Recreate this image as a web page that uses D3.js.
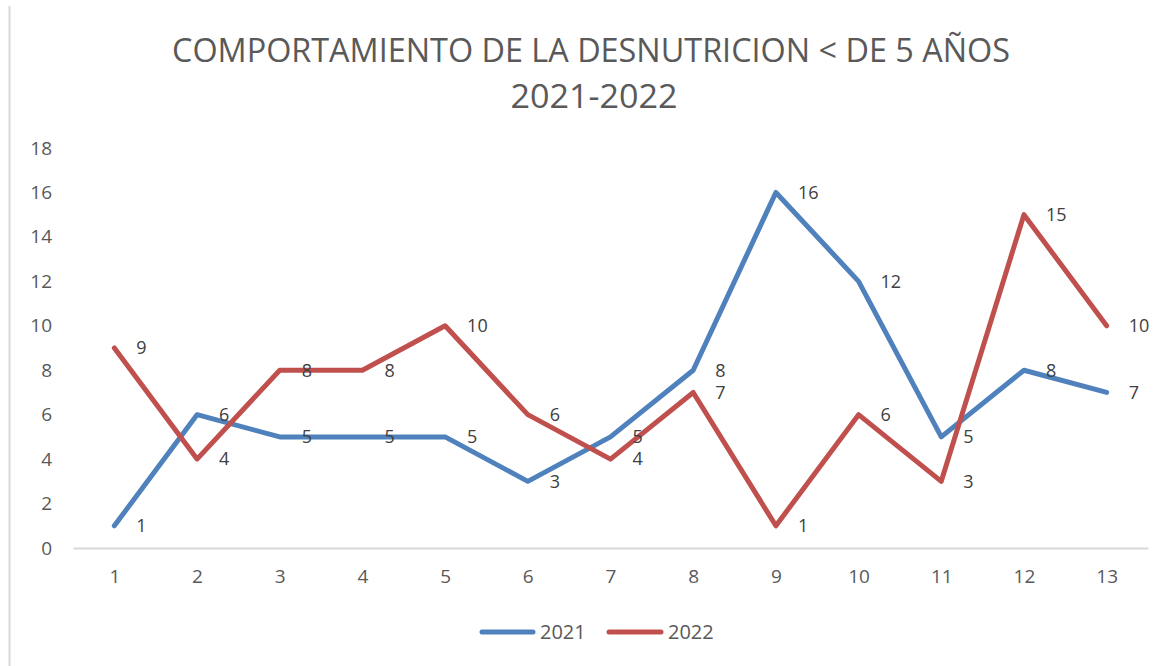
<!DOCTYPE html>
<html><head><meta charset="utf-8">
<script src="https://cdn.jsdelivr.net/npm/d3@7"></script>
<style>body{margin:0;background:#fff}svg{display:block}</style>
</head><body>
<svg id="c" width="1167" height="666"></svg>
<script>
const categories = ["1","2","3","4","5","6","7","8","9","10","11","12","13"];
const series2021 = [1,6,5,5,5,3,5,8,16,12,5,8,7];
const series2022 = [9,4,8,8,10,6,4,7,1,6,3,15,10];
const yTicks = [0,2,4,6,8,10,12,14,16,18];
const titleLines = ["COMPORTAMIENTO DE LA DESNUTRICION < DE 5 AÑOS","2021-2022"];
const seriesNames = ["2021","2022"];
const colors = ["#4F81BD","#C0504D"];

const svg = d3.select("#c");
const font = "'Open Sans', sans-serif";
svg.append("rect").attr("width",1167).attr("height",666).attr("fill","#fff");
svg.append("line").attr("x1",9.5).attr("x2",9.5).attr("y1",6).attr("y2",666).attr("stroke","#d9d9d9").attr("stroke-width",2);

const x = d3.scalePoint().domain(categories).range([73,1148]).padding(0.5);
const y = d3.scaleLinear().domain([0,18]).range([548,148]);

// title
svg.append("text").attr("x",591).attr("y",62).attr("text-anchor","middle")
  .attr("font-family",font).attr("font-size",32).attr("fill","#595959")
  .attr("textLength",838).attr("lengthAdjust","spacingAndGlyphs").text(titleLines[0]);
svg.append("text").attr("x",594).attr("y",108).attr("text-anchor","middle")
  .attr("font-family",font).attr("font-size",32).attr("fill","#595959")
  .attr("textLength",167).attr("lengthAdjust","spacingAndGlyphs").text(titleLines[1]);

// y axis labels
const ya = svg.append("g").attr("transform","translate(52,0)")
  .call(d3.axisLeft(y).tickValues(yTicks).tickSize(0).tickPadding(0));
ya.select(".domain").remove();
ya.selectAll("text").attr("font-family",font).attr("font-size",19).attr("fill","#595959");

// x axis
const xa = svg.append("g").attr("transform","translate(0,548)")
  .call(d3.axisBottom(x).tickSize(0).tickPadding(22));
xa.select(".domain").attr("stroke","#d9d9d9").attr("stroke-width",2);
xa.selectAll("text").attr("font-family",font).attr("font-size",19).attr("fill","#595959");

const line = d3.line().x((d,i)=>x(categories[i])).y(d=>y(d));
[series2021,series2022].forEach((s,k)=>{
  svg.append("path").datum(s).attr("d",line).attr("fill","none")
    .attr("stroke",colors[k]).attr("stroke-width",5)
    .attr("stroke-linejoin","round").attr("stroke-linecap","round");
});
[series2021,series2022].forEach((s,k)=>{
  svg.append("g").selectAll("text").data(s).join("text")
    .attr("x",(d,i)=>x(categories[i])+22).attr("y",d=>y(d))
    .attr("dy","0.35em").attr("font-family",font).attr("font-size",18)
    .attr("fill","#404040").text(d=>d);
});

// legend
const leg = [[480,535,540],[607,663,668]];
seriesNames.forEach((n,k)=>{
  svg.append("line").attr("x1",leg[k][0]+2).attr("x2",leg[k][1]-2).attr("y1",632).attr("y2",632)
    .attr("stroke",colors[k]).attr("stroke-width",5).attr("stroke-linecap","round");
  svg.append("text").attr("x",leg[k][2]).attr("y",632).attr("dy","0.35em")
    .attr("font-family",font).attr("font-size",20).attr("fill","#595959").text(n);
});
</script>
</body></html>
